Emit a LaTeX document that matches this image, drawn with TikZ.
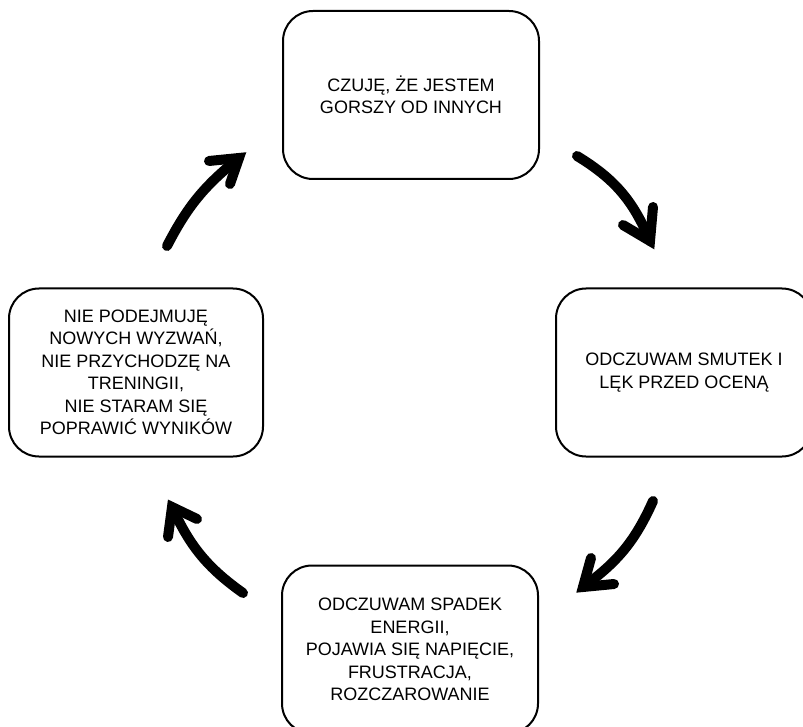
\documentclass[tikz,border=0pt]{standalone}
\usepackage{fontspec}
\setmainfont{Liberation Sans}
\begin{document}
\begin{tikzpicture}[x=1pt,y=-1pt,
  box/.style={draw=black, line width=2pt, rounded corners=30pt, fill=white,
    minimum width=256pt, minimum height=168pt, align=center,
    font=\fontsize{18pt}{22.5pt}\selectfont, text=black, inner sep=0pt},
  shaft/.style={line width=10pt, line cap=round},
  head/.style={line width=10pt, line cap=round, line join=miter}]
\useasboundingbox (0,0) rectangle (803,727);
\clip (0,0) rectangle (803,727);
% boxes
\node[box] (top) at (411,95) {CZUJĘ, ŻE JESTEM\\GORSZY OD INNYCH};
\node[box] (right) at (684,372.5) {ODCZUWAM SMUTEK I\\LĘK PRZED OCENĄ};
\node[box] (bottom) at (410,649.5) {ODCZUWAM SPADEK\\ENERGII,\\POJAWIA SIĘ NAPIĘCIE,\\FRUSTRACJA,\\ROZCZAROWANIE};
\node[box, minimum width=254pt] (left) at (136,372.5) {NIE PODEJMUJĘ\\NOWYCH WYZWAŃ,\\NIE PRZYCHODZĘ NA\\TRENINGII,\\NIE STARAM SIĘ\\POPRAWIĆ WYNIKÓW};
% arrow top-right
\coordinate (a1s) at (577,156);
\coordinate (a1t) at (650,241);
\coordinate (a1b) at (623,225);
\coordinate (a1c) at (653,207);
\draw[shaft] (a1s) to[bend left=18] (a1t);
\draw[head] (a1b) -- (a1t) -- (a1c);
% arrow bottom-right
\coordinate (a2s) at (653,501);
\coordinate (a2t) at (583,587);
\coordinate (a2b) at (591,558);
\coordinate (a2c) at (614,584);
\draw[shaft] (a2s) to[bend left=15] (a2t);
\draw[head] (a2b) -- (a2t) -- (a2c);
% arrow bottom-left
\coordinate (a3s) at (243,593);
\coordinate (a3t) at (172,507);
\coordinate (a3b) at (168,537);
\coordinate (a3c) at (197,519);
\draw[shaft] (a3s) to[bend left=15] (a3t);
\draw[head] (a3b) -- (a3t) -- (a3c);
% arrow top-left
\coordinate (a4s) at (167,246);
\coordinate (a4t) at (239,158);
\coordinate (a4b) at (209,161);
\coordinate (a4c) at (230,184);
\draw[shaft] (a4s) to[bend left=12] (a4t);
\draw[head] (a4b) -- (a4t) -- (a4c);
\end{tikzpicture}
\end{document}
